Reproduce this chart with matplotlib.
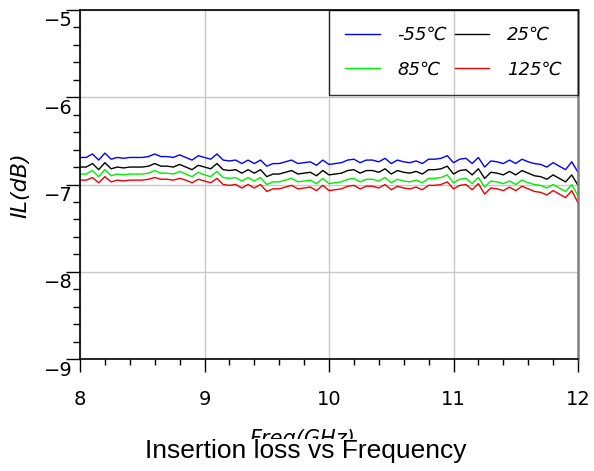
import numpy as np
import matplotlib
matplotlib.use("Agg")
import matplotlib.pyplot as plt
from matplotlib.ticker import MultipleLocator
from matplotlib.transforms import ScaledTranslation

# Insertion loss vs frequency at four temperatures

freq = np.linspace(8, 12, 81)  # GHz, 50 MHz steps

il_m55 = [-6.69, -6.69, -6.65, -6.72, -6.64, -6.71, -6.69, -6.70, -6.69, -6.69,
          -6.69, -6.68, -6.65, -6.68, -6.68, -6.69, -6.66, -6.69, -6.72, -6.67,
          -6.69, -6.71, -6.65, -6.72, -6.73, -6.72, -6.76, -6.72, -6.76, -6.72,
          -6.79, -6.76, -6.76, -6.74, -6.72, -6.76, -6.75, -6.74, -6.78, -6.72,
          -6.77, -6.76, -6.75, -6.72, -6.71, -6.75, -6.72, -6.72, -6.74, -6.70,
          -6.76, -6.72, -6.74, -6.75, -6.73, -6.76, -6.71, -6.71, -6.70, -6.67,
          -6.75, -6.71, -6.70, -6.76, -6.69, -6.80, -6.73, -6.74, -6.76, -6.72,
          -6.76, -6.71, -6.74, -6.76, -6.77, -6.80, -6.75, -6.79, -6.83, -6.74,
          -6.86]

il_25 = [-6.80, -6.80, -6.76, -6.83, -6.75, -6.82, -6.80, -6.81, -6.80, -6.80,
         -6.80, -6.79, -6.76, -6.79, -6.79, -6.80, -6.77, -6.80, -6.83, -6.78,
         -6.80, -6.82, -6.76, -6.83, -6.84, -6.83, -6.87, -6.83, -6.87, -6.83,
         -6.91, -6.88, -6.88, -6.86, -6.84, -6.88, -6.87, -6.86, -6.90, -6.84,
         -6.89, -6.88, -6.87, -6.84, -6.83, -6.87, -6.84, -6.84, -6.86, -6.82,
         -6.88, -6.84, -6.86, -6.87, -6.85, -6.88, -6.83, -6.83, -6.82, -6.79,
         -6.88, -6.84, -6.83, -6.89, -6.82, -6.93, -6.86, -6.87, -6.89, -6.85,
         -6.89, -6.84, -6.87, -6.90, -6.91, -6.94, -6.89, -6.93, -6.97, -6.89,
         -7.01]

il_85 = [-6.88, -6.88, -6.84, -6.91, -6.83, -6.90, -6.88, -6.89, -6.88, -6.88,
         -6.88, -6.87, -6.84, -6.87, -6.87, -6.88, -6.85, -6.88, -6.91, -6.86,
         -6.89, -6.91, -6.85, -6.92, -6.93, -6.92, -6.96, -6.92, -6.96, -6.92,
         -7.00, -6.97, -6.97, -6.95, -6.93, -6.97, -6.96, -6.95, -6.99, -6.93,
         -6.99, -6.98, -6.97, -6.94, -6.93, -6.97, -6.94, -6.94, -6.96, -6.92,
         -6.98, -6.94, -6.96, -6.97, -6.95, -6.98, -6.93, -6.93, -6.92, -6.89,
         -6.98, -6.94, -6.93, -6.99, -6.92, -7.03, -6.96, -6.97, -6.99, -6.96,
         -7.00, -6.95, -6.98, -7.00, -7.01, -7.04, -7.00, -7.04, -7.08, -7.00,
         -7.13]

il_125 = [-6.95, -6.95, -6.92, -6.98, -6.91, -6.97, -6.95, -6.96, -6.95, -6.95,
          -6.95, -6.94, -6.92, -6.94, -6.94, -6.95, -6.93, -6.95, -6.98, -6.94,
          -6.96, -6.98, -6.93, -7.00, -7.01, -7.00, -7.04, -7.00, -7.04, -7.00,
          -7.08, -7.05, -7.05, -7.03, -7.01, -7.05, -7.04, -7.03, -7.07, -7.01,
          -7.07, -7.06, -7.05, -7.02, -7.01, -7.05, -7.02, -7.02, -7.04, -7.00,
          -7.06, -7.02, -7.04, -7.05, -7.03, -7.06, -7.01, -7.01, -7.00, -6.97,
          -7.05, -7.01, -7.00, -7.06, -6.99, -7.11, -7.04, -7.05, -7.07, -7.03,
          -7.07, -7.02, -7.05, -7.08, -7.09, -7.12, -7.07, -7.11, -7.15, -7.07,
          -7.21]

fig = plt.figure(figsize=(5.94, 4.71), dpi=100)
ax = fig.add_axes([80 / 594, 1 - 359 / 471, 498 / 594, 349 / 471])

l1, = ax.plot(freq, il_m55, color="#0000ff", lw=1.0, label="-55\u2103")
l2, = ax.plot(freq, il_25, color="black", lw=1.0, label="25\u2103")
l3, = ax.plot(freq, il_85, color="#00ee00", lw=1.0, label="85\u2103")
l4, = ax.plot(freq, il_125, color="#ee0000", lw=1.0, label="125\u2103")

ax.set_xlim(8, 12)
ax.set_ylim(-9, -5)
ax.xaxis.set_major_locator(MultipleLocator(1))
ax.xaxis.set_minor_locator(MultipleLocator(0.2))
ax.yaxis.set_major_locator(MultipleLocator(1))
ax.yaxis.set_minor_locator(MultipleLocator(0.2))
ax.grid(True, which="major", color="#c8c8c8", lw=1.0)

ax.tick_params(axis="x", which="major", direction="out", length=9.5, width=1, labelsize=14, pad=13)
ax.tick_params(axis="x", which="minor", direction="out", length=4.3, width=1)
ax.tick_params(axis="y", which="major", direction="out", length=10, width=1, labelsize=14, pad=-5)
ax.tick_params(axis="y", which="minor", direction="out", length=5, width=1)

for s in ["left", "bottom", "top"]:
    ax.spines[s].set_color("black")
    ax.spines[s].set_linewidth(1.2)
ax.spines["right"].set_color("#808080")
ax.spines["right"].set_linewidth(1.8)

# y tick labels sit a bit below their ticks in the original
shift = ScaledTranslation(0, -9 / 100, fig.dpi_scale_trans)
for lab in ax.get_yticklabels():
    lab.set_transform(lab.get_transform() + shift)

leg = ax.legend(handles=[l1, l3, l2, l4], ncol=2, loc="upper right",
                bbox_to_anchor=(1, 1), borderaxespad=0, fancybox=False,
                facecolor="none", edgecolor="black", framealpha=None,
                handlelength=1.9, handletextpad=1.0, columnspacing=0.4,
                borderpad=0.9, labelspacing=0.9,
                prop={"style": "italic", "size": 13})
leg.get_frame().set_linewidth(1.0)

fig.text(20 / 594, 1 - 185 / 471, "IL(dB)", rotation=90, ha="center",
         va="center", fontsize=16, style="italic")
fig.text(302 / 594, 1 - 429 / 471, "Freq(GHz)", ha="center", va="top",
         fontsize=15, style="italic")
fig.text(306 / 594, 1 - 451 / 471, "Insertion loss vs Frequency", ha="center",
         va="center", fontsize=19, family="Liberation Sans",
         bbox=dict(facecolor="white", edgecolor="none", pad=0))

fig.savefig("out.png", dpi=100)
